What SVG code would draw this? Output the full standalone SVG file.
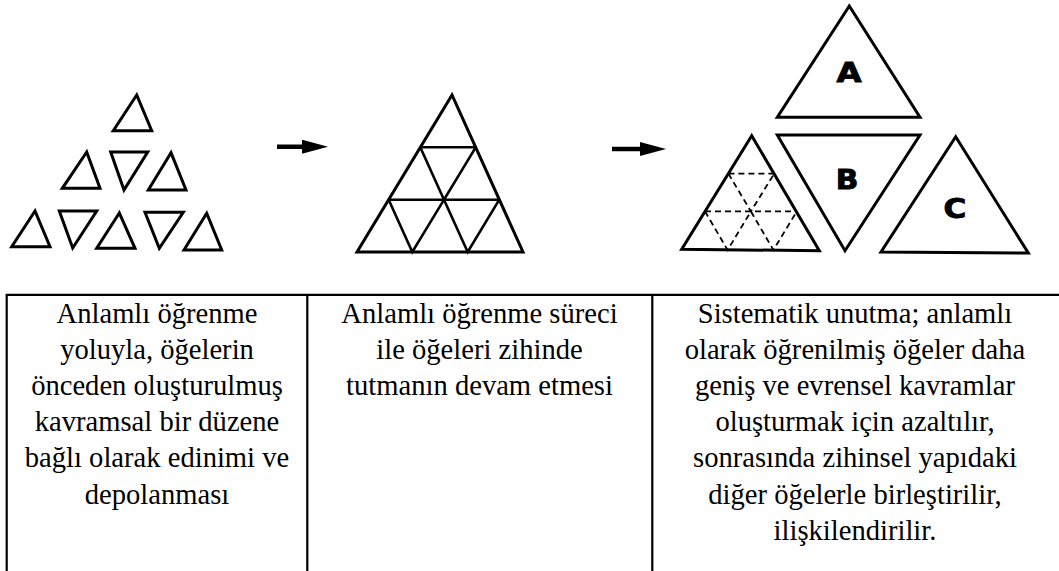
<svg xmlns="http://www.w3.org/2000/svg" width="1059" height="571" viewBox="0 0 1059 571">
<style>
.tri{fill:none;stroke:#000;stroke-width:3;stroke-linejoin:miter}
.grid{fill:none;stroke:#000;stroke-width:2.6}
.dash{fill:none;stroke:#000;stroke-width:1.8;stroke-dasharray:6 4}
.lbl{font-family:"DejaVu Sans",sans-serif;font-weight:bold;font-size:27px;text-anchor:middle;fill:#000;stroke:#000;stroke-width:0.9}
.cell{font-family:"Liberation Serif","Times New Roman",serif;font-size:28.6px;text-anchor:middle;fill:#000}
.rule{stroke:#000;stroke-width:2.2;fill:none}
.arrow{stroke:#000;stroke-width:4.5;fill:none}
</style>
<defs>
<marker id="head" markerUnits="userSpaceOnUse" viewBox="0 0 26 14" markerWidth="26" markerHeight="14" refX="8" refY="7" orient="auto">
<path d="M0,0 L26,7 L0,14 Z" fill="#000"/>
</marker>
</defs>
<rect width="1059" height="571" fill="#fff"/>

<g id="fig1-separate">
<polygon class="tri" points="136.7,95 113.3,130.7 151.7,130.7"/>
<polygon class="tri" points="86.7,152 62.3,188.3 100,188.3"/>
<polygon class="tri" points="110.7,152 147.7,152 124,190"/>
<polygon class="tri" points="171,152.7 148.3,190 186,190"/>
<polygon class="tri" points="35,211 11.7,246.7 50,246.7"/>
<polygon class="tri" points="59.3,211 96.7,211 72.7,248"/>
<polygon class="tri" points="119.3,213 96.7,248.3 135,248.3"/>
<polygon class="tri" points="145,212.3 183.3,212.3 159.3,248.3"/>
<polygon class="tri" points="206.7,213.3 184,250 221.7,250"/>
</g>

<g id="fig2-combined">
<polygon class="tri" points="452,95 357,252 523,252"/>
<path class="grid" d="M420.3,147.3 H475.7 M388.7,199.7 H499.3 M420.3,147.3 L444,199.7 L475.7,147.3 M388.7,199.7 L412.3,252 L444,199.7 L467.7,252 L499.3,199.7"/>
</g>

<g id="fig3-subsumed">
<polygon class="tri" points="751.7,135.7 681.7,249.3 819.3,250.7"/>
<path class="dash" d="M728.4,173.6 H774.2 M705,211.4 H796.8 M728.4,173.6 L750.9,211.4 L774.2,173.6 M705,211.4 L727.6,250 L750.9,211.4 L773.4,250 L796.8,211.4"/>
</g>

<g id="fig3-A">
<polygon class="tri" points="849.3,6 777.3,117.3 920,117.3"/>
<text class="lbl" transform="translate(849,82.3) scale(1.2,1)">A</text>
</g>
<g id="fig3-B">
<polygon class="tri" points="777.3,135 920,135 845,250.7"/>
<text class="lbl" transform="translate(847,189.3) scale(1.1,1)">B</text>
</g>
<g id="fig3-C">
<polygon class="tri" points="955.7,136.7 881,252 1028.3,253"/>
<text class="lbl" transform="translate(955,218.3) scale(1.15,1)">C</text>
</g>

<g id="connectors">
<line class="arrow" x1="277" y1="146.7" x2="310" y2="146.7" marker-end="url(#head)"/>
<line class="arrow" x1="612" y1="149" x2="648" y2="149" marker-end="url(#head)"/>
</g>

<g id="table">
<path class="rule" d="M5.6,294.8 H1059 M6.7,294.8 V571 M307.3,294.8 V571 M652.3,294.8 V571"/>
</g>

<g id="cell1">
<text class="cell" x="157" y="322.5">Anlamlı öğrenme</text>
<text class="cell" x="157" y="358.7">yoluyla, öğelerin</text>
<text class="cell" x="157" y="394.9">önceden oluşturulmuş</text>
<text class="cell" x="157" y="431.1">kavramsal bir düzene</text>
<text class="cell" x="157" y="467.3">bağlı olarak edinimi ve</text>
<text class="cell" x="157" y="503.5">depolanması</text>
</g>
<g id="cell2">
<text class="cell" x="479.5" y="322.5">Anlamlı öğrenme süreci</text>
<text class="cell" x="479.5" y="358.7">ile öğeleri zihinde</text>
<text class="cell" x="479.5" y="394.9">tutmanın devam etmesi</text>
</g>
<g id="cell3">
<text class="cell" x="855" y="322.5">Sistematik unutma; anlamlı</text>
<text class="cell" x="855" y="358.7">olarak öğrenilmiş öğeler daha</text>
<text class="cell" x="855" y="394.9">geniş ve evrensel kavramlar</text>
<text class="cell" x="855" y="431.1">oluşturmak için azaltılır,</text>
<text class="cell" x="855" y="467.3">sonrasında zihinsel yapıdaki</text>
<text class="cell" x="855" y="503.5">diğer öğelerle birleştirilir,</text>
<text class="cell" x="855" y="539.7">ilişkilendirilir.</text>
</g>
</svg>
